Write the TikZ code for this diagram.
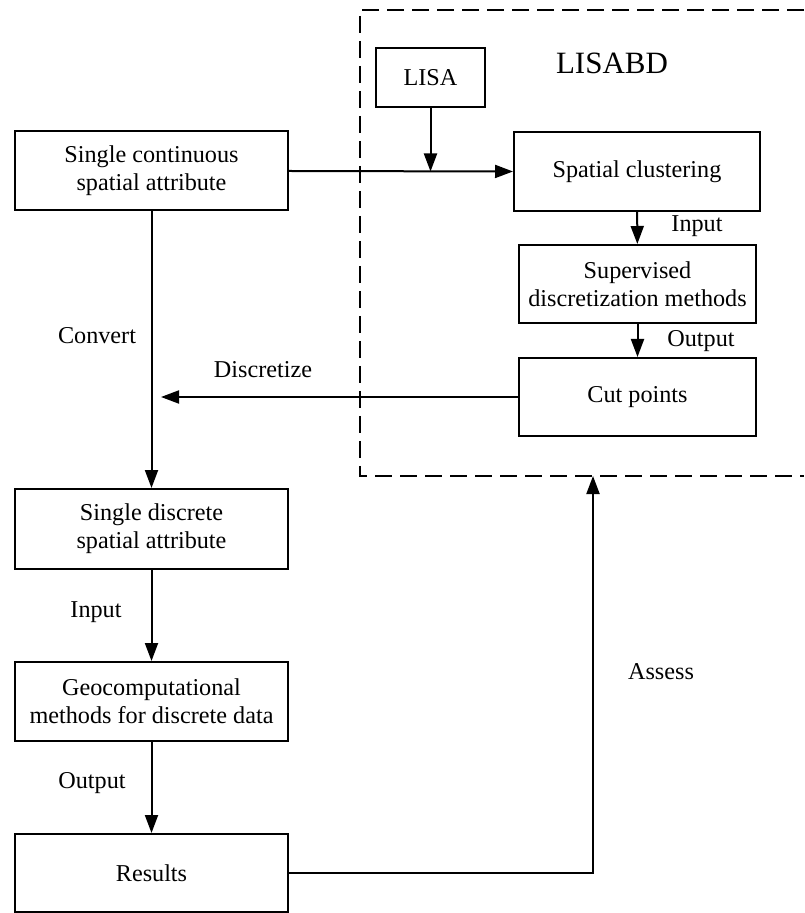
\documentclass[tikz,border=0pt]{standalone}
\usepackage{fontspec}
\setmainfont{Liberation Serif}
\usetikzlibrary{arrows.meta}

\tikzset{
  block/.style={draw,rectangle,line width=1pt,align=center,inner sep=0pt,
    minimum width=136.5pt,minimum height=39.5pt},
  smallblock/.style={block,minimum width=118.5pt,minimum height=39pt},
  arr/.style={line width=1pt,-{Triangle[length=9pt,width=6.5pt]}},
  lbl/.style={inner sep=0pt}
}

\begin{document}
\begin{tikzpicture}[x=0.5pt,y=-0.5pt,
    every node/.append style={font=\fontsize{12.1pt}{14pt}\selectfont}]
  \useasboundingbox (0,0) rectangle (804,913);

  % left column
  \node[block] (cont) at (151.5,171) {Single continuous\\spatial attribute};
  \node[block,minimum height=40pt] (disc) at (151.5,529) {Single discrete\\spatial attribute};
  \node[block] (geo) at (151.5,701.5) {Geocomputational\\methods for discrete data};
  \node[block,minimum height=39pt] (res) at (151.5,873) {Results};

  % LISABD part
  \draw[line width=1pt,dash pattern=on 8.5pt off 4pt]
    (804,10) -- (360,10) -- (360,476) -- (804,476);
  \node[lbl,font=\fontsize{15.5pt}{18pt}\selectfont] (lisabd) at (612,63) {LISABD};
  \node[block,minimum width=54.5pt,minimum height=29.5pt] (lisa) at (430.5,77.5) {LISA};
  \node[smallblock,minimum width=123pt,minimum height=39.5pt] (clus) at (637,171.5) {Spatial clustering};
  \node[smallblock] (sup) at (637.5,284) {Supervised\\discretization methods};
  \node[smallblock] (cut) at (637.5,397) {Cut points};

  \coordinate (dtip) at (161,397);
  \coordinate (asstop) at (593,476);

  % connectors
  \draw[arr] (cont.east) -- (clus.west);
  \draw[arr] (lisa.south) -- (lisa.south |- clus.west);
  \draw[arr] (clus) -- (sup);
  \draw[arr] (sup) -- (cut);
  \draw[arr] (cut.west) -- (dtip);
  \draw[arr] (cont) -- (disc);
  \draw[arr] (disc) -- (geo);
  \draw[arr] (geo) -- (res);
  \draw[arr] (res.east) -| (asstop);

  % labels
  \node[lbl] (in1) at (697,226) {Input};
  \node[lbl] (out1) at (701,341) {Output};
  \node[lbl] (conv) at (97,336) {Convert};
  \node[lbl] (dis) at (263,370) {Discretize};
  \node[lbl] (in2) at (96,612) {Input};
  \node[lbl] (out2) at (92,783) {Output};
  \node[lbl] (ass) at (661,672) {Assess};
\end{tikzpicture}
\end{document}
